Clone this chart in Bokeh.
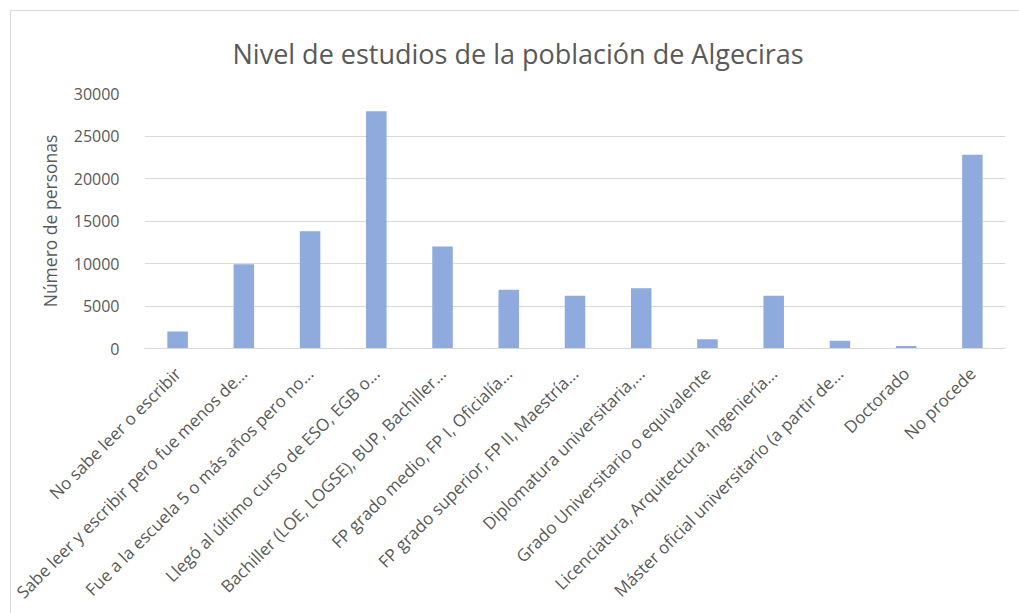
from bokeh.plotting import figure
from bokeh.models import Range1d, SingleIntervalTicker
from bokeh.embed import file_html
from bokeh.resources import INLINE
import math

# Nivel de estudios (categorías del censo) y número de personas
niveles = [
    "No sabe leer o escribir",
    "Sabe leer y escribir pero fue menos de...",
    "Fue a la escuela 5 o más años pero no...",
    "Llegó al último curso de ESO, EGB o...",
    "Bachiller (LOE, LOGSE), BUP, Bachiller...",
    "FP grado medio, FP I, Oficialía...",
    "FP grado superior, FP II, Maestría...",
    "Diplomatura universitaria,...",
    "Grado Universitario o equivalente",
    "Licenciatura, Arquitectura, Ingeniería...",
    "Máster oficial universitario (a partir de...",
    "Doctorado",
    "No procede",
]
personas = [2000, 9900, 13800, 27900, 12000, 6900, 6200, 7100, 1100, 6200, 900, 280, 22800]

titulo = "Nivel de estudios de la población de Algeciras"
etiqueta_y = "Número de personas"

FONT = "Open Sans"
GRIS_TEXTO = "#595959"
GRIS_LINEA = "#d9d9d9"
AZUL = "#8faadc"

p = figure(
    x_range=niveles,
    y_range=Range1d(0, 30000),
    width=1009,
    height=603,
    output_backend="svg",
    toolbar_location=None,
    min_border_left=133,
    min_border_right=15,
    min_border_top=81,
    min_border_bottom=266,
    title=titulo,
)
p.margin = (10, 0, 0, 10)
p.styles = {"border-top": "1px solid #d9d9d9", "border-left": "1px solid #d9d9d9"}
p.outline_line_color = None
p.background_fill_color = "white"
p.border_fill_color = "white"

# Título centrado sobre todo el gráfico (no solo sobre el área de trazado)
p.title.align = "left"
p.title.offset = 88
p.title.text_font = FONT
p.title.text_font_size = "27px"
p.title.text_font_style = "normal"
p.title.text_color = GRIS_TEXTO
p.title.standoff = 43

p.vbar(x=niveles, top=personas, width=0.31, color=AZUL, line_color=None)

# Eje Y
p.yaxis.ticker = SingleIntervalTicker(interval=5000)
p.yaxis.axis_line_color = None
p.yaxis.major_tick_line_color = None
p.yaxis.minor_tick_line_color = None
p.yaxis.major_label_text_font = FONT
p.yaxis.major_label_text_font_size = "16px"
p.yaxis.major_label_text_color = GRIS_TEXTO
p.yaxis.major_label_standoff = 19
p.yaxis.axis_label = etiqueta_y
p.yaxis.axis_label_text_font = FONT
p.yaxis.axis_label_text_font_size = "17.5px"
p.yaxis.axis_label_text_font_style = "normal"
p.yaxis.axis_label_text_color = GRIS_TEXTO
p.yaxis.axis_label_standoff = 9

# Eje X
p.xaxis.axis_line_color = GRIS_LINEA
p.xaxis.major_tick_line_color = None
p.xaxis.minor_tick_line_color = None
p.xaxis.major_label_orientation = math.pi / 4
p.xaxis.major_label_text_font = FONT
p.xaxis.major_label_text_font_size = "17px"
p.xaxis.major_label_text_color = GRIS_TEXTO
p.xaxis.major_label_standoff = 16

p.xgrid.grid_line_color = None
p.ygrid.grid_line_color = GRIS_LINEA
p.ygrid.grid_line_width = 1

p.x_range.range_padding = 0

open("out.html", "w").write(file_html(p, INLINE))
